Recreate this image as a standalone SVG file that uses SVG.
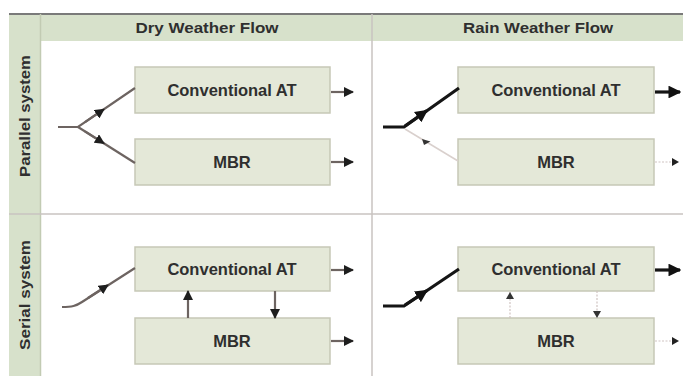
<svg xmlns="http://www.w3.org/2000/svg" width="683" height="376" viewBox="0 0 683 376">
<style>
.band{fill:#d7e1cb}
.box{fill:#e4e8d8;stroke:#c6c8b6;stroke-width:1.5}
.lbl{font-family:"Liberation Sans",Arial,sans-serif;font-weight:bold;fill:#2f2f2f;text-anchor:middle}
.hdr{font-size:14px}
.node{font-size:16.5px}
.side{font-size:14px}
.dry{stroke:#6d6461;stroke-width:2.2;fill:none}
.wet{stroke:#151515;stroke-width:3.2;fill:none}
.light{stroke:#d9d0cd;stroke-width:1.6;fill:none}
.thin{stroke:#cfc4c1;stroke-width:1.2;fill:none;stroke-dasharray:2 1.5}
.grid{stroke:#c9c3c1;stroke-width:1.5}
</style>
<defs>
<marker id="ah" viewBox="0 0 10 10" refX="9" refY="5" markerWidth="4.6" markerHeight="4.6" orient="auto" markerUnits="strokeWidth"><path d="M0,0L10,5L0,10z" fill="#1e1e1e"/></marker>
<marker id="ahb" viewBox="0 0 10 10" refX="9" refY="5" markerWidth="4" markerHeight="4" orient="auto" markerUnits="strokeWidth"><path d="M0,0L10,5L0,10z" fill="#111"/></marker>
</defs>
<rect width="683" height="376" fill="#ffffff"/>
<g id="frame">
<rect class="band" x="9" y="14" width="674" height="27"/>
<rect class="band" x="9" y="14" width="32" height="362"/>
<line x1="9" y1="14" x2="683" y2="14" stroke="#7a7a7a" stroke-width="2"/>
<line x1="40.5" y1="14" x2="40.5" y2="376" stroke="#c2cbb3" stroke-width="1.5"/>
<line class="grid" x1="372" y1="14" x2="372" y2="376"/>
<line class="grid" x1="9" y1="214" x2="683" y2="214"/>
</g>
<g id="headers">
<text class="lbl hdr" x="207" y="33" textLength="143" lengthAdjust="spacingAndGlyphs">Dry Weather Flow</text>
<text class="lbl hdr" x="538" y="33" textLength="150" lengthAdjust="spacingAndGlyphs">Rain Weather Flow</text>
<text class="lbl side" transform="translate(30,116) rotate(-90)" textLength="122" lengthAdjust="spacingAndGlyphs">Parallel system</text>
<text class="lbl side" transform="translate(30,295) rotate(-90)" textLength="110" lengthAdjust="spacingAndGlyphs">Serial system</text>
</g>
<g id="dry-par-at"><rect class="box" x="135" y="67" width="195" height="46"/><text class="lbl node" x="232" y="96">Conventional AT</text></g>
<g id="dry-par-mbr"><rect class="box" x="135" y="139" width="195" height="46"/><text class="lbl node" x="232" y="168">MBR</text></g>
<g id="rain-par-at"><rect class="box" x="458" y="67" width="196" height="46"/><text class="lbl node" x="556" y="96">Conventional AT</text></g>
<g id="rain-par-mbr"><rect class="box" x="458" y="139" width="196" height="46"/><text class="lbl node" x="556" y="168">MBR</text></g>
<g id="dry-ser-at"><rect class="box" x="135" y="247" width="195" height="44"/><text class="lbl node" x="232" y="275">Conventional AT</text></g>
<g id="dry-ser-mbr"><rect class="box" x="135" y="318" width="195" height="46"/><text class="lbl node" x="232" y="347">MBR</text></g>
<g id="rain-ser-at"><rect class="box" x="458" y="247" width="196" height="44"/><text class="lbl node" x="556" y="275">Conventional AT</text></g>
<g id="rain-ser-mbr"><rect class="box" x="458" y="318" width="196" height="46"/><text class="lbl node" x="556" y="347">MBR</text></g>
<g id="connectors">
<path class="dry" d="M58,127H78L135,88"/>
<path class="dry" d="M78,127L135,163"/>
<path class="dry" d="M85,122.2L104,109.2" marker-end="url(#ah)"/>
<path class="dry" d="M85,131.4L104,143.4" marker-end="url(#ah)"/>
<path class="dry" d="M331,92H353" stroke-width="1.8" marker-end="url(#ah)"/>
<path class="dry" d="M331,162H353" stroke-width="1.8" marker-end="url(#ah)"/>
<path class="light" d="M405,129L458,161"/>
<path d="M422,139l8.5,2.5l-6.5,3.5z" fill="#333"/>
<path class="wet" d="M383,127H404L459,88"/>
<path class="wet" d="M405,126L427,110.5" marker-end="url(#ahb)"/>
<path class="wet" d="M655,92H680" marker-end="url(#ahb)"/>
<path class="thin" d="M655,162H675"/>
<path d="M672,158L679,162L672,166z" fill="#222"/>
<path class="dry" d="M62,307C72,307 76,306 82,302L135,268"/>
<path class="dry" d="M88,298L108,285" marker-end="url(#ah)"/>
<path class="dry" d="M188,318V291" marker-end="url(#ah)"/>
<path class="dry" d="M275,291V318" marker-end="url(#ah)"/>
<path class="dry" d="M331,270H353" stroke-width="1.8" marker-end="url(#ah)"/>
<path class="dry" d="M331,341H353" stroke-width="1.8" marker-end="url(#ah)"/>
<path class="wet" d="M383,306H404L459,269"/>
<path class="wet" d="M405,305L427,290.5" marker-end="url(#ahb)"/>
<path class="thin" d="M510,318V292"/>
<path d="M506,299L510,292L514,299z" fill="#333"/>
<path class="thin" d="M597,291V317"/>
<path d="M593,311L597,318L601,311z" fill="#333"/>
<path class="wet" d="M655,270H680" marker-end="url(#ahb)"/>
<path class="thin" d="M655,341H675"/>
<path d="M672,337L679,341L672,345z" fill="#222"/>
</g>
</svg>
